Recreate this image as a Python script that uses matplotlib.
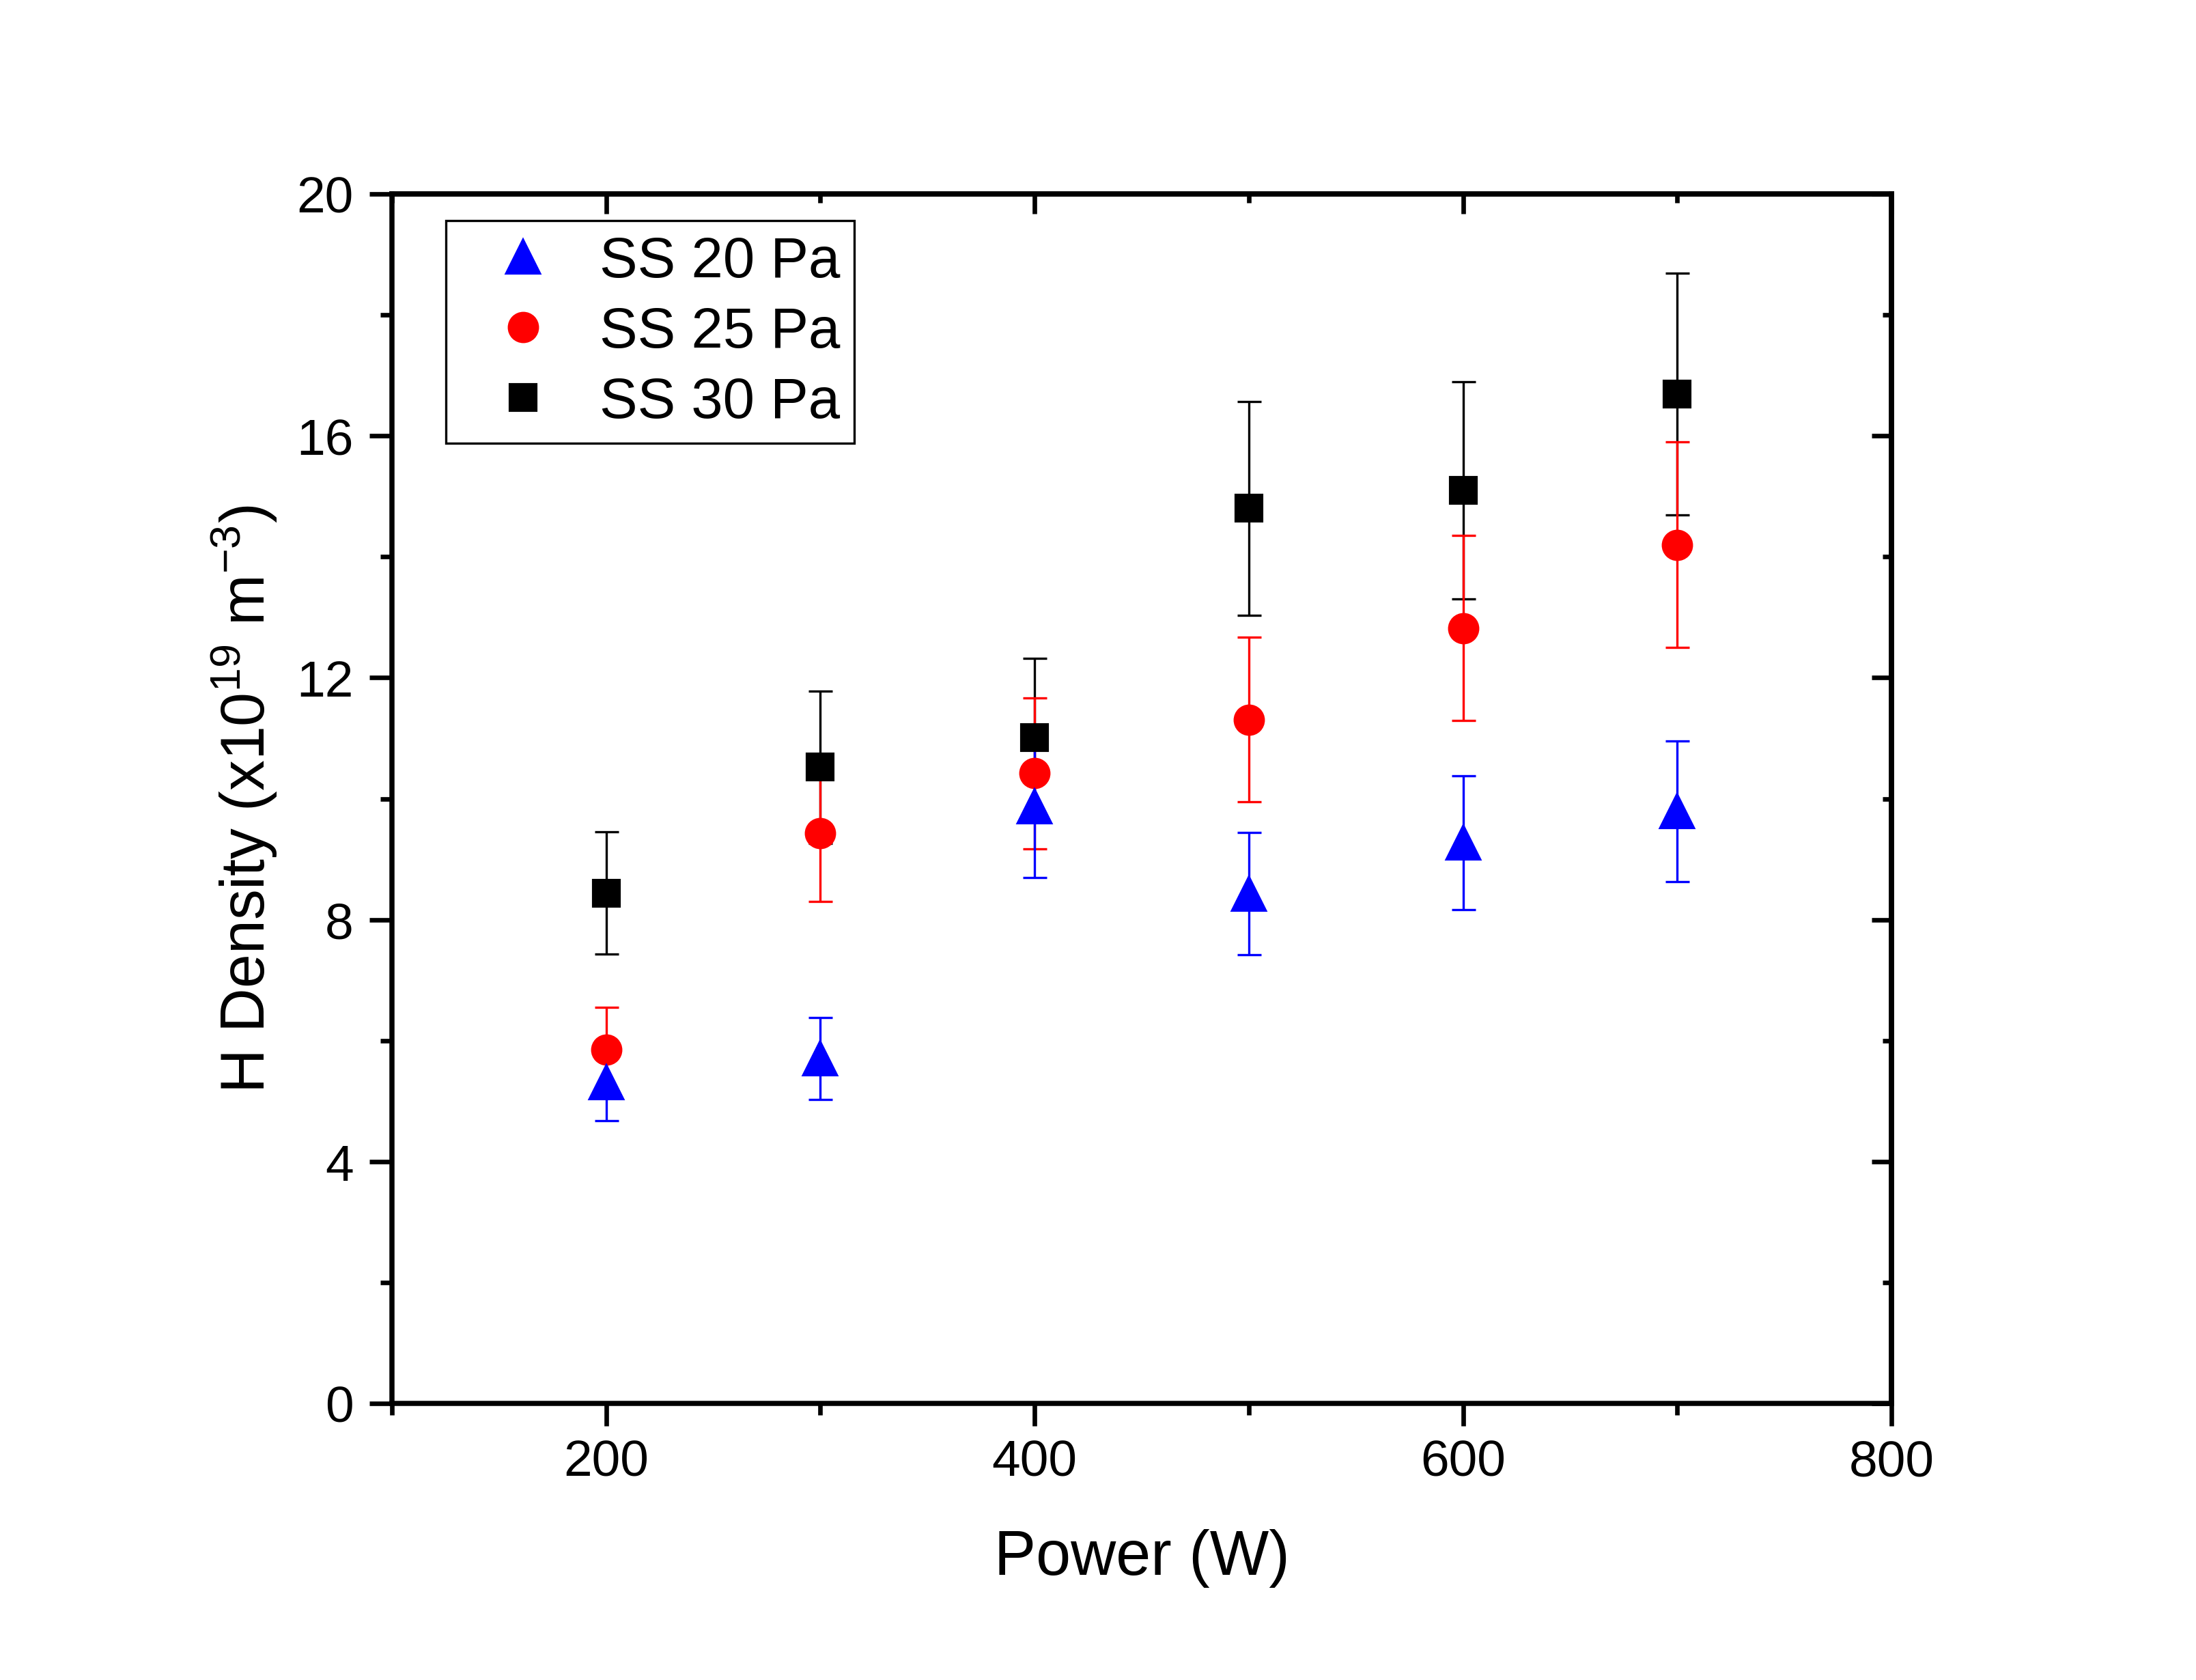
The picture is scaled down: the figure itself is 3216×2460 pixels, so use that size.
import matplotlib
matplotlib.use("Agg")
import matplotlib.pyplot as plt
from matplotlib.lines import Line2D
from matplotlib.ticker import MultipleLocator

plt.rcParams['font.family'] = ['Liberation Sans', 'DejaVu Sans']
plt.rcParams['mathtext.fontset'] = 'custom'
plt.rcParams['mathtext.rm'] = 'Liberation Sans'

power = [200, 300, 400, 500, 600, 700]

ss20 = [5.31, 5.70, 9.87, 8.43, 9.27, 9.79]
ss20_err = [0.63, 0.68, 1.18, 1.01, 1.11, 1.16]

ss25 = [5.85, 9.43, 10.42, 11.31, 12.82, 14.20]
ss25_err = [0.70, 1.13, 1.25, 1.36, 1.53, 1.70]

ss30 = [8.44, 10.52, 11.01, 14.80, 15.10, 16.69]
ss30_err = [1.01, 1.26, 1.31, 1.77, 1.80, 2.00]

labels = ['SS 20 Pa', 'SS 25 Pa', 'SS 30 Pa']

fig = plt.figure(figsize=(10.72, 8.203), dpi=300)
ax = fig.add_axes([0.1785, 0.1646, 0.6828, 0.7196])

ax.errorbar(power, ss30, yerr=ss30_err, fmt='s', color='black', ms=9,
            ecolor='black', elinewidth=0.8, capsize=4.2, capthick=0.8)
ax.errorbar(power, ss25, yerr=ss25_err, fmt='o', color='red', ms=10,
            ecolor='red', elinewidth=0.8, capsize=4.2, capthick=0.8)
ax.errorbar(power, ss20, yerr=ss20_err, fmt='^', color='blue', ms=11.5,
            ecolor='blue', elinewidth=0.8, capsize=4.2, capthick=0.8)

ax.set_xlim(100, 800)
ax.set_ylim(0, 20)
ax.xaxis.set_major_locator(MultipleLocator(200))
ax.xaxis.set_minor_locator(MultipleLocator(100))
ax.yaxis.set_major_locator(MultipleLocator(4))
ax.yaxis.set_minor_locator(MultipleLocator(2))
ax.tick_params(which='both', direction='out', width=1.6, labelsize=18)
ax.tick_params(which='major', length=8)
ax.tick_params(which='minor', length=4)
ax.tick_params(axis='x', which='major', pad=4.5)
ax.tick_params(axis='y', which='major', pad=5.5)
for s in ax.spines.values():
    s.set_linewidth(1.8)

# top and right ticks point inward
top = ax.secondary_xaxis('top')
top.xaxis.set_major_locator(MultipleLocator(200))
top.xaxis.set_minor_locator(MultipleLocator(100))
top.tick_params(which='both', direction='in', width=1.6, labeltop=False)
top.tick_params(which='major', length=7)
top.tick_params(which='minor', length=3.2)
top.spines['top'].set_linewidth(1.8)
right = ax.secondary_yaxis('right')
right.yaxis.set_major_locator(MultipleLocator(4))
right.yaxis.set_minor_locator(MultipleLocator(2))
right.tick_params(which='both', direction='in', width=1.6, labelright=False)
right.tick_params(which='major', length=7)
right.tick_params(which='minor', length=3.2)
right.spines['right'].set_linewidth(1.8)

ax.set_xlabel('Power (W)', fontsize=22, labelpad=15)
ax.set_ylabel(r'H Density (x10$^{19}$ m$^{-3}$)', fontsize=21.5, labelpad=6)

handles = [
    Line2D([], [], ls='none', marker='^', color='blue', ms=11.5),
    Line2D([], [], ls='none', marker='o', color='red', ms=10),
    Line2D([], [], ls='none', marker='s', color='black', ms=9),
]
leg = ax.legend(handles, labels, loc='upper left', bbox_to_anchor=(0.036, 0.978),
                borderaxespad=0, fontsize=20, fancybox=False, edgecolor='black',
                framealpha=1, handletextpad=0.25, borderpad=0.25, labelspacing=0.3,
                handlelength=2.2)
leg.get_frame().set_linewidth(0.8)

fig.savefig('out.png', dpi=300)
